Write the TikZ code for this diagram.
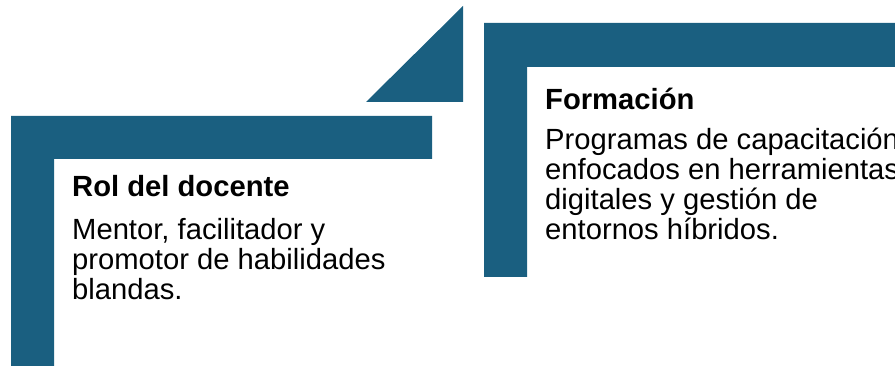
\documentclass[tikz,border=0pt]{standalone}
\usepackage{fontspec}
\setmainfont{Liberation Sans}
\definecolor{bandblue}{HTML}{1A5F80}
\begin{document}
\begin{tikzpicture}[x=1pt, y=-1pt]
\tikzstyle{band} = [fill=bandblue, draw=none]
\tikzstyle{heading} = [anchor=base west, inner sep=0pt, font=\fontsize{29.2}{30.5}\selectfont\bfseries]
\tikzstyle{bodytext} = [anchor=base west, inner sep=0pt, align=left, font=\fontsize{29.2}{30}\selectfont]
%
\useasboundingbox (0,0) rectangle (895,366);
\clip (0,0) rectangle (895,366);
%
\fill [band] (11,116) -- (432,116) -- (432,159) -- (54,159) -- (54,366) -- (11,366) -- cycle;
\fill [band] (484,23) -- (895,23) -- (895,67) -- (527,67) -- (527,277) -- (484,277) -- cycle;
\fill [band] (463,6) -- (463,102) -- (366,102) -- cycle;
%
\node (rol)       [heading] at (72,197) {Rol del docente};
\node (rolbody)   [bodytext] at ([yshift=-102.5pt]rol.base west) {Mentor, facilitador y\\promotor de habilidades\\blandas.};
\node (formacion) [heading] at (545,109.5) {Formación};
\node (formbody)  [bodytext] at ([yshift=-130pt]formacion.base west) {Programas de capacitación\\enfocados en herramientas\\digitales y gestión de\\entornos híbridos.};
\end{tikzpicture}
\end{document}
